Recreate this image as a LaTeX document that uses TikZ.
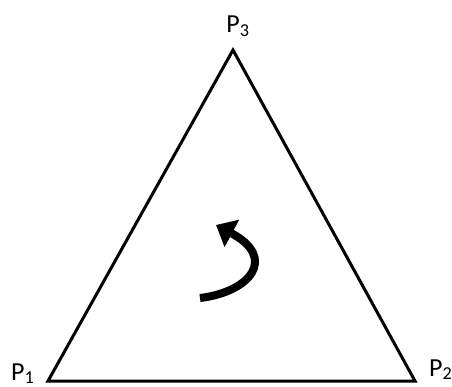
\documentclass[tikz,border=0pt]{standalone}
\usepackage{fontspec}
\setmainfont{Carlito}
\usetikzlibrary{arrows.meta}
\newcommand{\lab}[2]{#1\textsubscript{#2}}
\begin{document}
\begin{tikzpicture}[x=1pt,y=-1pt,
  lbl/.style={inner sep=0pt,font=\fontsize{26}{30}\selectfont},
  edge/.style={line width=3pt,line join=miter},
  turn/.style={line width=8pt,-{Triangle[length=18pt,width=30pt]}}]
\useasboundingbox (0,0) rectangle (452,387);
\coordinate (p1) at (48,381);
\coordinate (p2) at (415,381);
\coordinate (p3) at (233,50);
\draw[edge] (p1) -- (p2) -- (p3) -- cycle;
\node[lbl,anchor=base west] (l1) at (11,380) {\lab{P}{1}};
\node[lbl,anchor=base west] (l2) at (429,376) {\lab{P}{2}};
\node[lbl,anchor=base] (l3) at (238,33) {\lab{P}{3}};
\coordinate (ta) at (200,298);
\coordinate (tb) at (216,225);
\draw[turn] (ta) .. controls (250,292) and (278,258) .. (tb);
\end{tikzpicture}
\end{document}
